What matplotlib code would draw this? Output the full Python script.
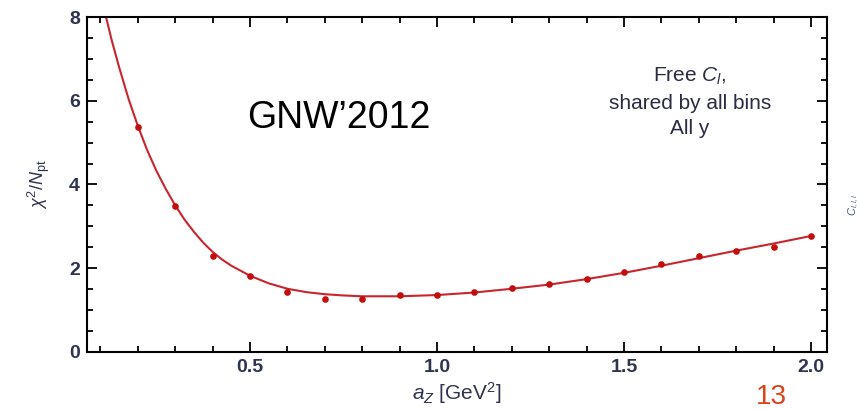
import numpy as np
import matplotlib.pyplot as plt
from matplotlib.ticker import MultipleLocator

plt.rcParams['font.family'] = ['Liberation Sans', 'DejaVu Sans']
plt.rcParams['mathtext.fontset'] = 'custom'
plt.rcParams['mathtext.rm'] = 'Liberation Sans'
plt.rcParams['mathtext.it'] = 'Liberation Sans:italic'

# data points (chi^2/Npt vs a_Z)
a_z = [0.2, 0.3, 0.4, 0.5, 0.6, 0.7, 0.8, 0.9, 1.0, 1.1,
       1.2, 1.3, 1.4, 1.5, 1.6, 1.7, 1.8, 1.9, 2.0]
chi2 = [5.37, 3.49, 2.30, 1.81, 1.44, 1.26, 1.26, 1.36, 1.36, 1.44,
        1.52, 1.62, 1.74, 1.92, 2.09, 2.30, 2.42, 2.51, 2.77]

# fitted curve
fit_x = [0.115, 0.13, 0.15, 0.175, 0.2, 0.225, 0.25, 0.275, 0.3, 0.325, 0.35,
         0.375, 0.4, 0.425, 0.45, 0.5, 0.55, 0.6, 0.65, 0.7, 0.75, 0.8, 0.85,
         0.9, 1.0, 1.1, 1.2, 1.3, 1.4, 1.5, 1.6, 1.7, 1.8, 1.9, 2.0]
fit_y = [8.0, 7.45, 6.8, 6.05, 5.4, 4.82, 4.32, 3.89, 3.5, 3.16, 2.87,
         2.61, 2.39, 2.21, 2.06, 1.82, 1.64, 1.51, 1.43, 1.38, 1.35, 1.33, 1.33,
         1.33, 1.36, 1.42, 1.51, 1.61, 1.74, 1.89, 2.06, 2.24, 2.42, 2.59, 2.77]

tick_col = '#2e3350'

fig = plt.figure(figsize=(8.62, 4.09), dpi=100)
ax = fig.add_axes([0.1009, 0.1394, 0.8585, 0.819])
ax.plot(fit_x, fit_y, color='#c8262e', lw=1.5, zorder=2)
ax.plot(a_z, chi2, 'o', color='#c40d0d', ms=4.8, mec='none', zorder=3)

ax.set_xlim(0.064, 2.043)
ax.set_ylim(0, 8)
ax.xaxis.set_major_locator(MultipleLocator(0.5))
ax.xaxis.set_minor_locator(MultipleLocator(0.1))
ax.yaxis.set_major_locator(MultipleLocator(2))
ax.yaxis.set_minor_locator(MultipleLocator(0.5))
ax.set_xticks([0.5, 1.0, 1.5, 2.0])
ax.set_xticklabels(['0.5', '1.0', '1.5', '2.0'])
ax.tick_params(which='both', direction='in', top=True, right=True,
               width=1.3, colors='black', labelcolor=tick_col, labelsize=14)
ax.tick_params(which='major', length=7, pad=5)
ax.tick_params(which='minor', length=4.5)
for lab in ax.get_xticklabels() + ax.get_yticklabels():
    lab.set_fontweight('bold')
for s in ax.spines.values():
    s.set_linewidth(1.5)

ax.set_xlabel(r'$a_Z$ [GeV$^2$]', fontsize=15, color=tick_col, labelpad=3)
ax.set_ylabel(r'$\chi^2/N_{\rm pt}$', fontsize=13, color=tick_col, labelpad=12)

ax.text(0.216, 0.70, 'GNW\u20192012', transform=ax.transAxes, fontsize=27,
        color='black', va='center', ha='left')
ax.text(0.815, 0.746, 'Free $C_l$,\nshared by all bins\nAll y',
        transform=ax.transAxes, fontsize=15, color='#2b2b45',
        ha='center', va='center', linespacing=1.45)

fig.text(0.895, 0.03, '13', fontsize=20, color='#d9441a', ha='center', va='center')
fig.text(0.999, 0.5, r'$C_{l,l,l}$', fontsize=8, color='#4a5a80',
         rotation=90, ha='right', va='center')

fig.savefig('out.png', dpi=100)
